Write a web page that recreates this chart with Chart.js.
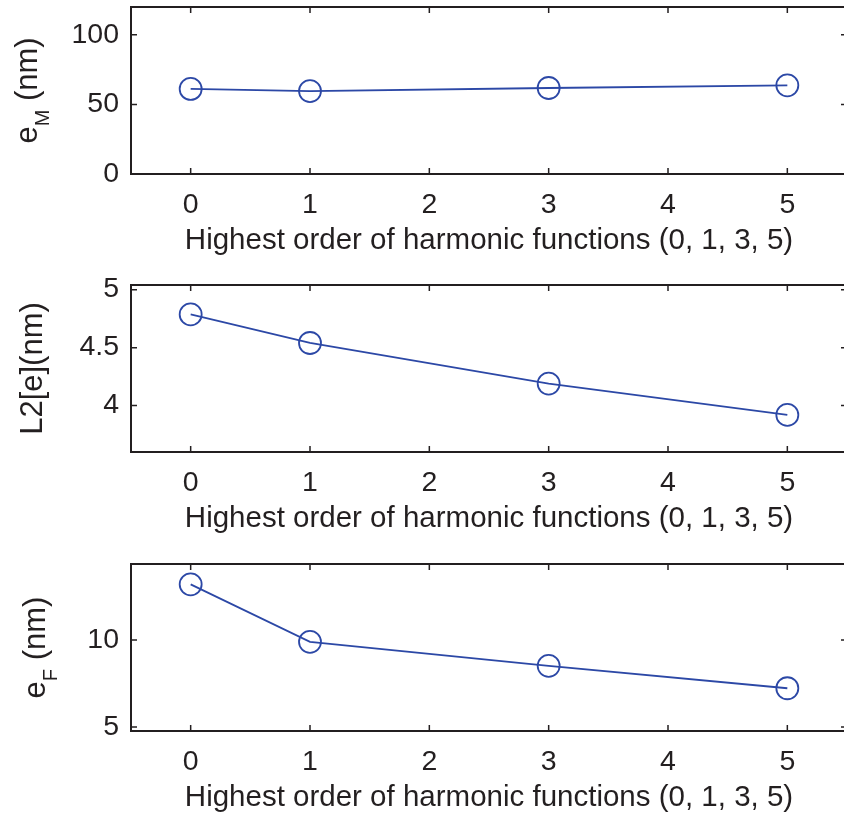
<!DOCTYPE html>
<html>
<head>
<meta charset="utf-8">
<style>
  html, body { margin: 0; padding: 0; background: #fff; overflow: hidden; width: 844px; height: 818px; }
  canvas { position: absolute; left: 0; }
</style>
<script src="https://cdn.jsdelivr.net/npm/chart.js"></script>
</head>
<body>
<canvas id="meanPanel" width="849" height="272" style="top:0px"></canvas>
<canvas id="l2Panel" width="849" height="272" style="top:278px"></canvas>
<canvas id="frobPanel" width="849" height="272" style="top:557px"></canvas>
<script>
// Highest harmonic order used in each fit
const harmonicOrders = [0, 1, 3, 5];
const xTickValues = [0, 1, 2, 3, 4, 5];

// Error measures (nm) for each order
const meanError = [61.1, 59.6, 61.8, 63.7];
const l2Error = [4.786, 4.54, 4.19, 3.92];
const frobError = [13.21, 9.90, 8.52, 7.23];

// Y tick values for each panel
const meanTicks = [0, 50, 100];
const l2Ticks = [4, 4.5, 5];
const frobTicks = [5, 10];

const xTitle = 'Highest order of harmonic functions (0, 1, 3, 5)';

const INK = '#231f20';
const BLUE = '#2c48a6';
const FAMILY = "'Liberation Sans', Arial, Helvetica, sans-serif";

// Box frame with inward ticks, plus a rotated y title made of pieces;
// sub pieces are lowered and smaller
function frameAndTitle(pieces, baselineX) {
  return {
    id: 'frameAndTitle',
    afterDraw(chart) {
      const { ctx, chartArea: a, scales: { x, y } } = chart;
      ctx.save();
      ctx.strokeStyle = INK;
      ctx.lineWidth = 1.5;
      const tl = 6;
      ctx.beginPath();
      x.ticks.forEach(t => {
        const px = x.getPixelForValue(t.value);
        ctx.moveTo(px, a.bottom); ctx.lineTo(px, a.bottom - tl);
        ctx.moveTo(px, a.top); ctx.lineTo(px, a.top + tl);
      });
      y.ticks.forEach(t => {
        const py = y.getPixelForValue(t.value);
        ctx.moveTo(a.left, py); ctx.lineTo(a.left + tl, py);
        ctx.moveTo(a.right, py); ctx.lineTo(a.right - tl, py);
      });
      ctx.stroke();
      ctx.lineWidth = 2;
      ctx.strokeRect(a.left, a.top, a.right - a.left, a.bottom - a.top);

      // y axis title
      const mainFont = '31px ' + FAMILY;
      const subFont = '20px ' + FAMILY;
      let total = 0;
      pieces.forEach(p => {
        ctx.font = p.sub ? subFont : mainFont;
        p.w = ctx.measureText(p.text).width;
        total += p.w;
      });
      const cy = (a.top + a.bottom) / 2;
      ctx.translate(baselineX, cy);
      ctx.rotate(-Math.PI / 2);
      ctx.fillStyle = INK;
      ctx.textBaseline = 'alphabetic';
      ctx.textAlign = 'left';
      let pos = -total / 2;
      pieces.forEach(p => {
        ctx.font = p.sub ? subFont : mainFont;
        ctx.fillText(p.text, pos, p.sub ? 12 : 0);
        pos += p.w;
      });
      ctx.restore();
    }
  };
}

function makePanel(id, values, yMin, yMax, yTicks, pieces, baselineX) {
  new Chart(document.getElementById(id), {
    type: 'line',
    data: {
      datasets: [{
        data: harmonicOrders.map((o, i) => ({ x: o, y: values[i] })),
        borderColor: BLUE,
        borderWidth: 1.8,
        pointRadius: 11,
        pointHoverRadius: 11,
        pointBorderWidth: 1.8,
        pointBorderColor: BLUE,
        pointBackgroundColor: 'rgba(0,0,0,0)',
        fill: false,
        tension: 0
      }]
    },
    options: {
      responsive: false,
      animation: false,
      devicePixelRatio: 1,
      events: [],
      layout: { autoPadding: false, padding: { top: 7, right: 2, left: 0, bottom: 0 } },
      plugins: { legend: { display: false }, tooltip: { enabled: false } },
      scales: {
        x: {
          type: 'linear',
          min: -0.5,
          max: 5.5,
          afterBuildTicks: s => { s.ticks = xTickValues.map(v => ({ value: v })); },
          afterFit: s => { s.height = 98; s.paddingLeft = 0; s.paddingRight = 0; },
          grid: { display: false, drawTicks: false },
          border: { display: false },
          ticks: {
            color: INK,
            padding: 14.4,
            maxRotation: 0,
            autoSkip: false,
            font: { family: FAMILY, size: 28.5, lineHeight: 1.2 },
            callback: v => String(v)
          },
          title: {
            display: true,
            text: xTitle,
            color: INK,
            font: { family: FAMILY, size: 29.5, lineHeight: 1.2 },
            padding: { top: 0, bottom: 13 }
          }
        },
        y: {
          min: yMin,
          max: yMax,
          afterBuildTicks: s => { s.ticks = yTicks.map(v => ({ value: v })); },
          afterFit: s => { s.width = 131; s.paddingTop = 0; s.paddingBottom = 0; },
          grid: { display: false, drawTicks: false },
          border: { display: false },
          ticks: {
            color: INK,
            padding: 12,
            autoSkip: false,
            font: { family: FAMILY, size: 28.5, lineHeight: 1.2 },
            callback: v => String(v)
          }
        }
      }
    },
    plugins: [frameAndTitle(pieces, baselineX)]
  });
}

makePanel('meanPanel', meanError, 0, 120, meanTicks,
  [{ text: 'e' }, { text: 'M', sub: true }, { text: ' (nm)' }], 37);
makePanel('l2Panel', l2Error, 3.60, 5.04, l2Ticks,
  [{ text: 'L2[e](nm)' }], 42);
makePanel('frobPanel', frobError, 4.77, 14.38, frobTicks,
  [{ text: 'e' }, { text: 'F', sub: true }, { text: ' (nm)' }], 45);
</script>
</body>
</html>
